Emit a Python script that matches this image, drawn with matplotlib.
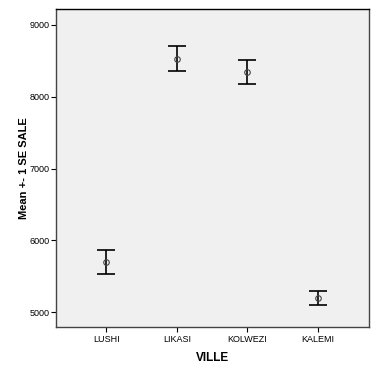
import matplotlib
matplotlib.use("Agg")
import matplotlib.pyplot as plt

# data
villes = ["LUSHI", "LIKASI", "KOLWEZI", "KALEMI"]
means = [5694, 8532, 8338, 5194]
se = [167, 170, 167, 101]

plt.rcParams["font.family"] = ["Liberation Sans", "DejaVu Sans"]

fig = plt.figure(figsize=(3.76, 3.76), dpi=100)
ax = fig.add_axes([56 / 376, 1 - 327 / 376, 313 / 376, 318 / 376])
ax.set_facecolor("#f0f0f0")

x = list(range(1, len(villes) + 1))
ax.errorbar(x, means, yerr=se, fmt="none", ecolor="black", elinewidth=1.2,
            capsize=6.5, capthick=1.2)
ax.plot(x, means, "o", mfc="none", mec="#444444", ms=4, mew=0.8)

ax.set_xlim(0.29, 4.72)
ax.set_ylim(4792, 9222)
ax.set_xticks(x)
ax.set_xticklabels(villes)
ax.set_yticks([5000, 6000, 7000, 8000, 9000])
ax.tick_params(axis="both", direction="out", length=3.6, width=0.8, labelsize=6.5,
               colors="black")
ax.tick_params(axis="x", pad=2)
ax.tick_params(axis="y", pad=1)
for s in ax.spines.values():
    s.set_color("#444444")
    s.set_linewidth(1.0)
ax.spines["top"].set_color("black")

ax.set_xlabel("VILLE", fontsize=8.5, fontweight="bold", labelpad=6)
ax.set_ylabel("Mean +- 1 SE SALE", fontsize=8, fontweight="bold", labelpad=0.5)

fig.savefig("out.png", dpi=100, facecolor="white")
